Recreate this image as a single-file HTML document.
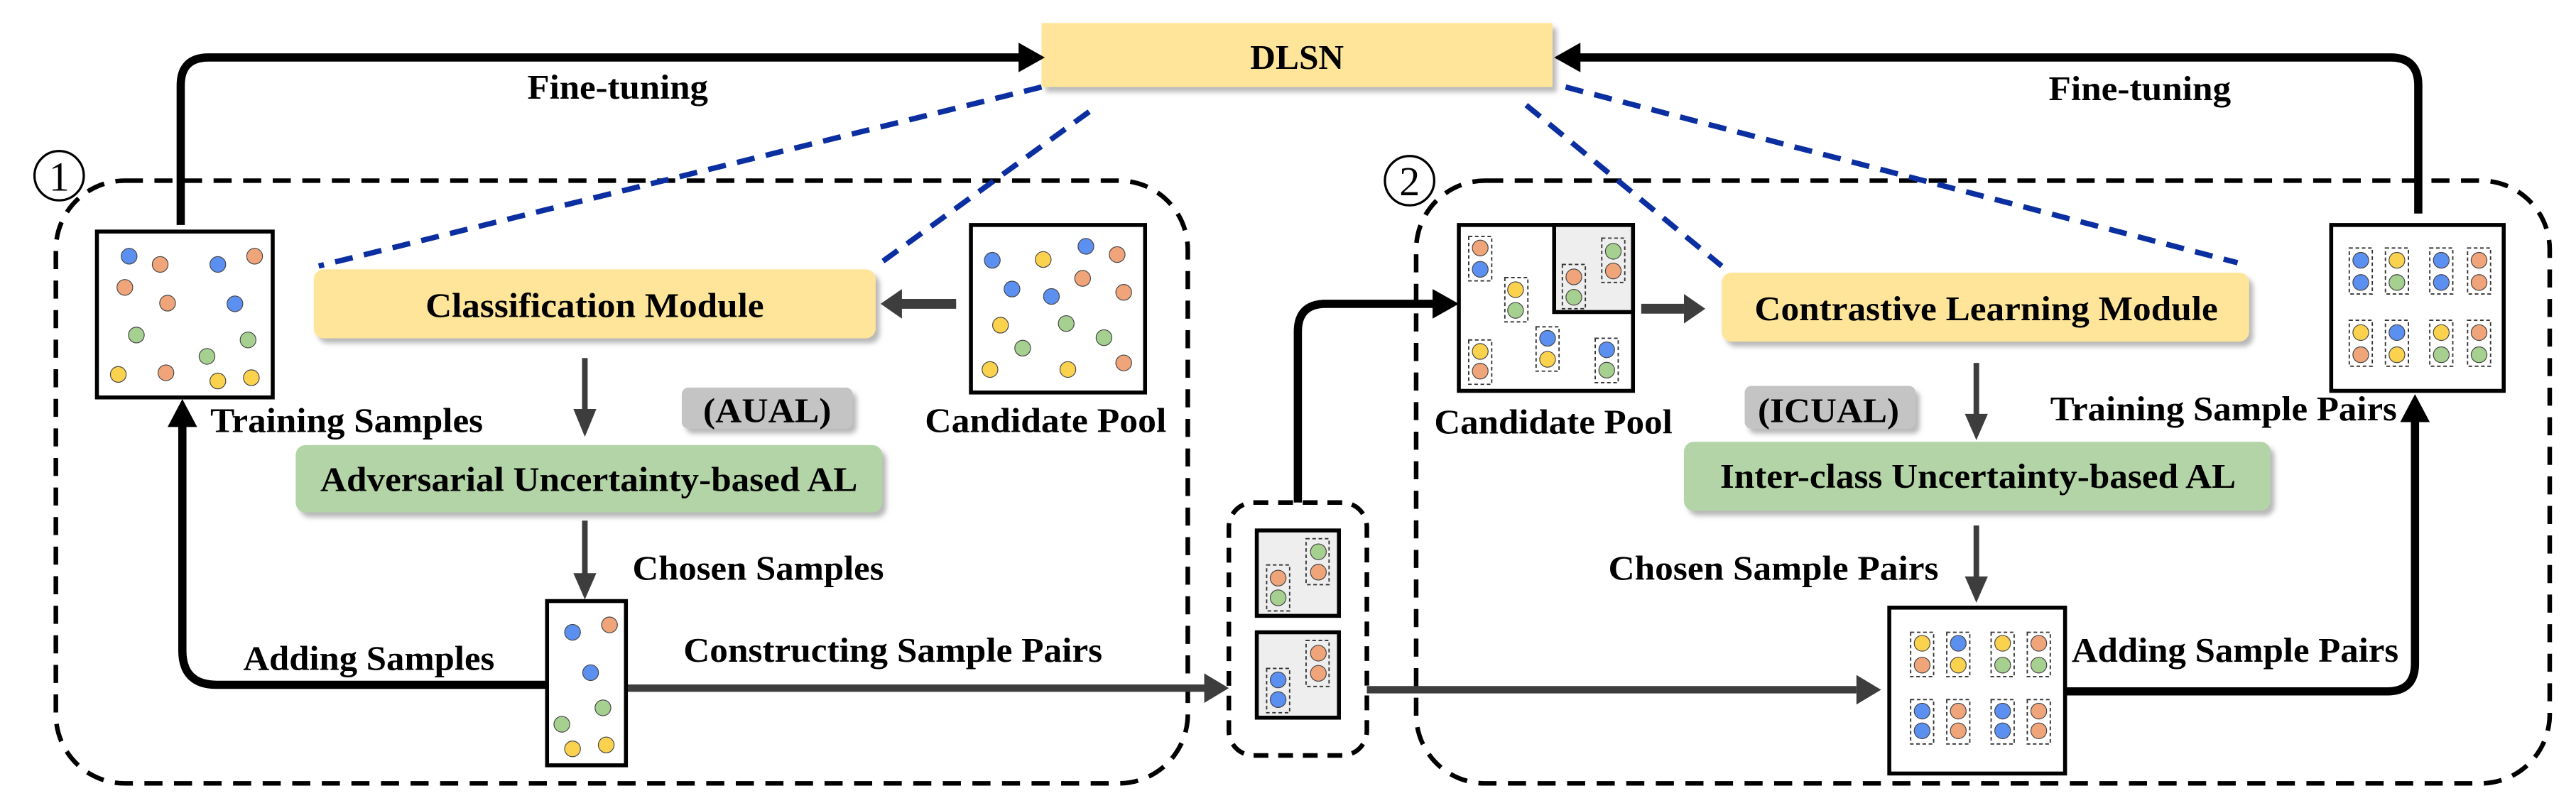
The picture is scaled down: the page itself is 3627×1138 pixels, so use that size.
<!DOCTYPE html>
<html><head><meta charset="utf-8"><style>
html,body{margin:0;padding:0;background:#fff;}
svg{display:block;}
text{font-family:"Liberation Serif",serif;font-weight:bold;fill:#000;}
</style></head><body>
<svg width="3627" height="1138" viewBox="0 0 1568 492" preserveAspectRatio="none" xmlns="http://www.w3.org/2000/svg">
<defs>
<filter id="sh" x="-10%" y="-30%" width="130%" height="180%"><feDropShadow dx="2.5" dy="3" stdDeviation="1.5" flood-color="#888" flood-opacity="0.6"/></filter>
</defs>

<!-- dashed regions -->
<rect x="34" y="110" width="689" height="367" rx="42" fill="none" stroke="#000" stroke-width="2.8" stroke-dasharray="11,7"/>
<rect x="862" y="110" width="690" height="367" rx="42" fill="none" stroke="#000" stroke-width="2.8" stroke-dasharray="11,7"/>
<rect x="748" y="306" width="84" height="154" rx="15" fill="none" stroke="#000" stroke-width="2.8" stroke-dasharray="9,6"/>

<!-- circled numbers -->
<circle cx="36" cy="107" r="15" fill="none" stroke="#000" stroke-width="1.4"/>
<text x="36" y="116" font-size="25" text-anchor="middle" style="font-weight:normal">1</text>
<circle cx="858" cy="110" r="15" fill="none" stroke="#000" stroke-width="1.4"/>
<text x="858" y="119" font-size="25" text-anchor="middle" style="font-weight:normal">2</text>

<!-- blue dashed lines -->
<g stroke="#0b2fa0" stroke-width="3.3" stroke-dasharray="11,7" fill="none">
<line x1="634" y1="53" x2="194" y2="162"/>
<line x1="663" y1="68" x2="532" y2="163"/>
<line x1="929" y1="64" x2="1048" y2="162"/>
<line x1="953" y1="53" x2="1362" y2="160"/>
</g>

<!-- DLSN -->
<rect x="634" y="14" width="311" height="39" fill="#fee599" filter="url(#sh)"/>
<text x="761" y="42" font-size="21" textLength="57" lengthAdjust="spacingAndGlyphs">DLSN</text>

<!-- black arrows -->
<g stroke="#000" stroke-width="5" fill="none">
<path d="M110,137 V52 Q110,35 127,35 H622"/>
<path d="M1472,130 V52 Q1472,35 1455,35 H960"/>
<path d="M333,417 H132 Q111,417 111,396 V258"/>
<path d="M790,306 V202 Q790,185 807,185 H873"/>
<path d="M1257,421 H1453 Q1470,421 1470,404 V255"/>
</g>
<g fill="#000">
<polygon points="636,35 620,26 620,44"/>
<polygon points="946,35 962,26 962,44"/>
<polygon points="111,243 102,260 120,260"/>
<polygon points="888,185 872,176 872,194"/>
<polygon points="1470,240 1461,257 1479,257"/>
</g>

<!-- gray arrows -->
<g stroke="#3d3d3d" fill="none">
<path d="M381,419 H734" stroke-width="4.5"/>
<path d="M832,420 H1130" stroke-width="4.5"/>
<path d="M582,185 H548" stroke-width="6"/>
<path d="M999,188 H1025" stroke-width="6"/>
<path d="M356,218 V252" stroke-width="3.4"/>
<path d="M356,317 V352" stroke-width="3.4"/>
<path d="M1203,221 V255" stroke-width="3.4"/>
<path d="M1203,320 V354" stroke-width="3.4"/>
</g>
<g fill="#3d3d3d">
<polygon points="748,419 733,410 733,428"/>
<polygon points="1145,420 1130,411 1130,429"/>
<polygon points="536,185 549,176 549,194"/>
<polygon points="1038,188 1025,179 1025,197"/>
<polygon points="356,266 349,249 363,249"/>
<polygon points="356,365 349,349 363,349"/>
<polygon points="1203,268 1196,252 1210,252"/>
<polygon points="1203,367 1196,351 1210,351"/>
</g>

<!-- module boxes -->
<rect x="191" y="164" width="342" height="42" rx="6" fill="#fee599" filter="url(#sh)"/>
<rect x="180" y="271" width="357" height="41" rx="6" fill="#b3d4a6" filter="url(#sh)"/>
<rect x="415" y="236" width="104" height="25" rx="4" fill="#c4c4c4" filter="url(#sh)"/>
<rect x="1048" y="166" width="321" height="42" rx="6" fill="#fee599" filter="url(#sh)"/>
<rect x="1025" y="269" width="357" height="42" rx="6" fill="#b3d4a6" filter="url(#sh)"/>
<rect x="1062" y="235" width="104" height="26" rx="4" fill="#c4c4c4" filter="url(#sh)"/>

<!-- sample boxes -->
<g stroke="#000" stroke-width="2.4">
<rect x="59" y="141" width="107" height="101" fill="#fff"/>
<rect x="591" y="137" width="106" height="102" fill="#fff"/>
<rect x="333" y="366" width="48" height="100" fill="#fff"/>
<rect x="765" y="323" width="50" height="52" fill="#eee"/>
<rect x="765" y="385" width="50" height="52" fill="#eee"/>
<rect x="888" y="137" width="106" height="101" fill="#fff"/>
<rect x="946" y="137" width="48" height="53" fill="#eee"/>
<rect x="1419" y="137" width="105" height="101" fill="#fff"/>
<rect x="1150" y="370" width="107" height="101" fill="#fff"/>
</g>

<!-- pair dashed rects -->
<g fill="none" stroke="#333" stroke-width="0.8" stroke-dasharray="2.2,1.6">
<rect x="771" y="344" width="14" height="28"/><rect x="795" y="328" width="14" height="28"/>
<rect x="795" y="390" width="14" height="28"/><rect x="771" y="407" width="14" height="27"/>
<rect x="894" y="144" width="14" height="27"/><rect x="916" y="169" width="14" height="27"/>
<rect x="951" y="161" width="14" height="27"/><rect x="975" y="145" width="14" height="27"/>
<rect x="935" y="199" width="14" height="27"/><rect x="894" y="207" width="14" height="27"/>
<rect x="971" y="206" width="14" height="27"/>
<rect x="1430" y="151" width="14" height="28"/><rect x="1452" y="151" width="14" height="28"/>
<rect x="1479" y="151" width="14" height="28"/><rect x="1502" y="151" width="14" height="28"/>
<rect x="1430" y="195" width="14" height="28"/><rect x="1452" y="195" width="14" height="28"/>
<rect x="1479" y="195" width="14" height="28"/><rect x="1502" y="195" width="14" height="28"/>
<rect x="1163" y="385" width="14" height="27"/><rect x="1185" y="385" width="14" height="27"/>
<rect x="1212" y="385" width="14" height="27"/><rect x="1234" y="385" width="14" height="27"/>
<rect x="1163" y="426" width="14" height="27"/><rect x="1185" y="426" width="14" height="27"/>
<rect x="1212" y="426" width="14" height="27"/><rect x="1234" y="426" width="14" height="27"/>
</g>

<!-- dots -->
<g stroke="#444" stroke-width="0.5">
<g fill="#5b8ff0">
<circle cx="78.6" cy="156" r="4.8"/><circle cx="132.6" cy="161" r="4.8"/><circle cx="143" cy="185" r="4.8"/>
<circle cx="604" cy="158.5" r="4.8"/><circle cx="661" cy="150" r="4.8"/><circle cx="616" cy="176" r="4.8"/><circle cx="640" cy="180.5" r="4.8"/>
<circle cx="348.5" cy="385" r="4.8"/><circle cx="359.5" cy="409.6" r="4.8"/>
<circle cx="778" cy="414" r="4.8"/><circle cx="778" cy="426" r="4.8"/>
<circle cx="901" cy="164" r="4.8"/><circle cx="942" cy="206" r="4.8"/><circle cx="978" cy="213" r="4.8"/>
<circle cx="1437" cy="158.5" r="4.8"/><circle cx="1437" cy="172" r="4.8"/><circle cx="1486" cy="158.5" r="4.8"/><circle cx="1486" cy="172" r="4.8"/><circle cx="1459" cy="202.5" r="4.8"/>
<circle cx="1192" cy="391.7" r="4.8"/><circle cx="1170" cy="433" r="4.8"/><circle cx="1170" cy="445" r="4.8"/><circle cx="1219" cy="433" r="4.8"/><circle cx="1219" cy="445" r="4.8"/>
</g>
<g fill="#f0a47a">
<circle cx="97.5" cy="161" r="4.8"/><circle cx="155" cy="156" r="4.8"/><circle cx="76" cy="175" r="4.8"/><circle cx="102" cy="184.6" r="4.8"/><circle cx="101" cy="227" r="4.8"/>
<circle cx="680" cy="155" r="4.8"/><circle cx="659" cy="169.5" r="4.8"/><circle cx="684" cy="178" r="4.8"/><circle cx="684" cy="221" r="4.8"/>
<circle cx="371" cy="380.5" r="4.8"/>
<circle cx="778" cy="352" r="4.8"/><circle cx="802.5" cy="348.4" r="4.8"/><circle cx="802.5" cy="397.7" r="4.8"/><circle cx="802.5" cy="410" r="4.8"/>
<circle cx="901" cy="151" r="4.8"/><circle cx="958" cy="168.6" r="4.8"/><circle cx="982" cy="165" r="4.8"/><circle cx="901" cy="226" r="4.8"/>
<circle cx="1509" cy="158.5" r="4.8"/><circle cx="1509" cy="172" r="4.8"/><circle cx="1437" cy="216" r="4.8"/><circle cx="1509" cy="202.5" r="4.8"/>
<circle cx="1170" cy="405" r="4.8"/><circle cx="1241" cy="391.7" r="4.8"/><circle cx="1192" cy="433" r="4.8"/><circle cx="1192" cy="445" r="4.8"/><circle cx="1241" cy="433" r="4.8"/><circle cx="1241" cy="445" r="4.8"/>
</g>
<g fill="#a5d08f">
<circle cx="83" cy="204" r="4.8"/><circle cx="151" cy="207" r="4.8"/><circle cx="126" cy="217" r="4.8"/>
<circle cx="649" cy="197" r="4.8"/><circle cx="672" cy="205.6" r="4.8"/><circle cx="622.5" cy="212" r="4.8"/>
<circle cx="367" cy="431" r="4.8"/><circle cx="342" cy="441" r="4.8"/>
<circle cx="778" cy="364" r="4.8"/><circle cx="802.5" cy="336" r="4.8"/>
<circle cx="922.5" cy="189" r="4.8"/><circle cx="958" cy="181" r="4.8"/><circle cx="982" cy="153" r="4.8"/><circle cx="978" cy="225.4" r="4.8"/>
<circle cx="1459" cy="172" r="4.8"/><circle cx="1486" cy="216" r="4.8"/><circle cx="1509" cy="216" r="4.8"/>
<circle cx="1219" cy="405" r="4.8"/><circle cx="1241" cy="405" r="4.8"/>
</g>
<g fill="#fbd24e">
<circle cx="72" cy="228" r="4.8"/><circle cx="132.6" cy="232" r="4.8"/><circle cx="153" cy="230" r="4.8"/>
<circle cx="635" cy="158" r="4.8"/><circle cx="609" cy="198" r="4.8"/><circle cx="602.6" cy="225" r="4.8"/><circle cx="650" cy="225" r="4.8"/>
<circle cx="348.5" cy="456" r="4.8"/><circle cx="369" cy="453.6" r="4.8"/>
<circle cx="922.5" cy="176.4" r="4.8"/><circle cx="942" cy="218.8" r="4.8"/><circle cx="901" cy="214" r="4.8"/>
<circle cx="1459" cy="158.5" r="4.8"/><circle cx="1437" cy="202.5" r="4.8"/><circle cx="1459" cy="216" r="4.8"/><circle cx="1486" cy="202.5" r="4.8"/>
<circle cx="1170" cy="391.7" r="4.8"/><circle cx="1192" cy="405" r="4.8"/><circle cx="1219" cy="391.7" r="4.8"/>
</g>
</g>

<!-- labels -->
<g font-size="21">
<text x="321" y="60" textLength="110" lengthAdjust="spacingAndGlyphs">Fine-tuning</text>
<text x="1247" y="61" textLength="111" lengthAdjust="spacingAndGlyphs">Fine-tuning</text>
<text x="259" y="193" textLength="206" lengthAdjust="spacingAndGlyphs">Classification Module</text>
<text x="128" y="263" textLength="166" lengthAdjust="spacingAndGlyphs">Training Samples</text>
<text x="428" y="257" textLength="78" lengthAdjust="spacingAndGlyphs" fill="#222">(AUAL)</text>
<text x="563" y="263" textLength="147" lengthAdjust="spacingAndGlyphs">Candidate Pool</text>
<text x="195" y="299" textLength="327" lengthAdjust="spacingAndGlyphs">Adversarial Uncertainty-based AL</text>
<text x="385" y="353" textLength="153" lengthAdjust="spacingAndGlyphs">Chosen Samples</text>
<text x="148" y="408" textLength="153" lengthAdjust="spacingAndGlyphs">Adding Samples</text>
<text x="416" y="403" textLength="255" lengthAdjust="spacingAndGlyphs">Constructing Sample Pairs</text>
<text x="873" y="264" textLength="145" lengthAdjust="spacingAndGlyphs">Candidate Pool</text>
<text x="1070" y="257" textLength="86" lengthAdjust="spacingAndGlyphs" fill="#222">(ICUAL)</text>
<text x="1068" y="195" textLength="282" lengthAdjust="spacingAndGlyphs">Contrastive Learning Module</text>
<text x="1248" y="256" textLength="211" lengthAdjust="spacingAndGlyphs">Training Sample Pairs</text>
<text x="1047" y="297" textLength="314" lengthAdjust="spacingAndGlyphs">Inter-class Uncertainty-based AL</text>
<text x="979" y="353" textLength="201" lengthAdjust="spacingAndGlyphs">Chosen Sample Pairs</text>
<text x="1261" y="403" textLength="199" lengthAdjust="spacingAndGlyphs">Adding Sample Pairs</text>
</g>
</svg>
</body></html>
